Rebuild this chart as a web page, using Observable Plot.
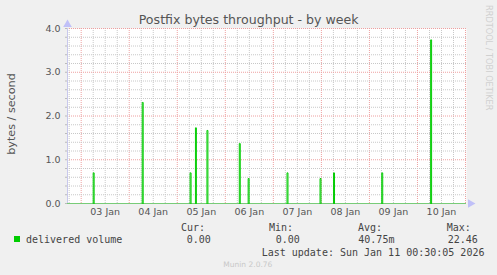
<!DOCTYPE html>
<html>
<head>
<meta charset="utf-8">
<script src="https://cdn.jsdelivr.net/npm/d3@7"></script>
<script src="https://cdn.jsdelivr.net/npm/@observablehq/plot@0.6"></script>
<style>
  html, body { margin: 0; padding: 0; background: #f0f0f0; }
  #chart { width: 497px; height: 275px; }
</style>
</head>
<body>
<div id="chart"></div>
<script>
// ---- data ----
const title = "Postfix bytes throughput - by week";
const yLabel = "bytes / second";
const seriesName = "delivered volume";
const spikeTimes = [
  "2026-01-03T06:00Z", "2026-01-04T06:30Z", "2026-01-05T06:25Z", "2026-01-05T09:05Z",
  "2026-01-05T14:50Z", "2026-01-06T07:00Z", "2026-01-06T11:25Z", "2026-01-07T06:50Z",
  "2026-01-07T23:20Z", "2026-01-08T06:05Z", "2026-01-09T06:10Z", "2026-01-10T06:35Z"
];
const spikeValues = [0.70, 2.31, 0.70, 1.73, 1.67, 1.37, 0.57, 0.70, 0.57, 0.70, 0.70, 3.74];
const dayLabels = ["03 Jan", "04 Jan", "05 Jan", "06 Jan", "07 Jan", "08 Jan", "09 Jan", "10 Jan"];
const dayStarts = ["2026-01-03", "2026-01-04", "2026-01-05", "2026-01-06", "2026-01-07", "2026-01-08", "2026-01-09", "2026-01-10", "2026-01-11"];
const yMajor = [1, 2, 3, 4];
const yTickLabels = ["0.0", "1.0", "2.0", "3.0", "4.0"];
const statHeaders = ["Cur:", "Min:", "Avg:", "Max:"];
const statValues = ["0.00", "0.00", "40.75m", "22.46"];
const lastUpdate = "Last update: Sun Jan 11 00:30:05 2026";
const footer = "Munin 2.0.76";
const watermark = "RRDTOOL / TOBI OETIKER";

// ---- derived ----
const t0 = new Date("2026-01-02T17:10Z");
const t1 = new Date("2026-01-11T00:30Z");
const step = 1728 * 1000; // one pixel of rrd step
const spikeData = [];
spikeTimes.forEach((s, i) => {
  const t = new Date(s);
  const v = spikeValues[i];
  const t2 = new Date(+t + step);
  spikeData.push({t, v: 0, z: i}, {t, v, z: i}, {t: t2, v, z: i}, {t: t2, v: 0, z: i});
});
const majorX = dayStarts.map(d => new Date(d + "T00:00Z"));
const minorX = d3.utcHour.every(6).range(t0, t1).filter(d => d.getUTCHours() !== 0);
const labelX = dayStarts.slice(0, dayLabels.length).map(d => new Date(d + "T12:00Z"));
const yMinor = d3.range(0.2, 4.0001, 0.2).filter(v => Math.abs(v - Math.round(v)) > 1e-6);
const yAll = d3.range(0, 4.0001, 0.2);

const grey = "#c8c8c8";
const red = "#eea0a0";

const chart = Plot.plot({
  width: 497,
  height: 275,
  marginLeft: 67,
  marginRight: 31,
  marginTop: 28,
  marginBottom: 72,
  style: { background: "#f0f0f0", fontFamily: "DejaVu Sans", fontSize: "9.5px", color: "#555" },
  x: { type: "utc", domain: [t0, t1] },
  y: { domain: [0, 4] },
  marks: [
    Plot.frame({ fill: "white", stroke: null }),
    Plot.ruleX(minorX, { stroke: grey, strokeDasharray: "1,1" }),
    Plot.ruleX(majorX, { stroke: red, strokeDasharray: "1,1" }),
    Plot.ruleY(yMinor, { stroke: grey, strokeDasharray: "1,1" }),
    Plot.ruleY(yMajor, { stroke: red, strokeDasharray: "1,1" }),
    Plot.axisY({ ticks: yAll, tickSize: 2, tickFormat: () => "", stroke: "#bbb" }),
    Plot.axisY({ ticks: [0, 1, 2, 3, 4], tickSize: 0, tickPadding: 7, tickFormat: (d, i) => yTickLabels[i], fontSize: 9.5 }),
    Plot.axisX({ ticks: labelX, tickSize: 0, tickPadding: 5, tickFormat: (d, i) => dayLabels[i], fontSize: 9.5 }),
    Plot.ruleX([t0], { stroke: "#c8c8ec" }),
    Plot.ruleY([0], { stroke: "#78cc78" }),
    Plot.line(spikeData, { x: "t", y: "v", z: "z", stroke: "#00cc00", strokeWidth: 1 }),
    Plot.dot([{ x: t0, y: 4 }], { x: "x", y: "y", symbol: "triangle", r: 3.2, dy: -4, fill: "#c0c0f8", stroke: null }),
    Plot.dot([{ x: t1, y: 0 }], { x: "x", y: "y", symbol: "triangle", r: 3.2, dx: 4, rotate: 90, fill: "#c0c0f8", stroke: null })
  ]
});

document.getElementById("chart").appendChild(chart);

const svg = d3.select(chart);
const g = svg.append("g").attr("text-anchor", "start");

function txt(x, y, s, opts = {}) {
  const t = g.append("text")
    .attr("x", x).attr("y", y)
    .attr("text-anchor", opts.anchor || "start")
    .attr("font-family", opts.font || "DejaVu Sans Mono")
    .attr("font-size", opts.size || 10)
    .attr("fill", opts.fill || "#444")
    .text(s);
  if (opts.transform) t.attr("transform", opts.transform);
  return t;
}

txt(248.7, 23.5, title, { anchor: "middle", font: "DejaVu Sans", size: 12.6, fill: "#555" });
txt(0, 0, yLabel, { anchor: "middle", font: "DejaVu Sans", size: 11.2, fill: "#555", transform: "translate(14.5,114) rotate(-90)" });
txt(0, 0, watermark, { font: "DejaVu Sans", size: 8.2, fill: "#d0d0d0", transform: "translate(485.5,5) rotate(90)" });

g.append("rect").attr("x", 14).attr("y", 236).attr("width", 6).attr("height", 6).attr("fill", "#00cc00");
txt(26, 243, seriesName);

const headerX = [181, 269, 358, 446.7];
const valueX = [186.7, 275.7, 358.3, 447.7];
statHeaders.forEach((h, i) => {
  txt(headerX[i], 230.5, h);
  txt(valueX[i], 243, statValues[i]);
});
txt(261.7, 255.5, lastUpdate);
txt(223.3, 267, footer, { font: "DejaVu Sans", size: 7.5, fill: "#c8c8c8" });
</script>
</body>
</html>
